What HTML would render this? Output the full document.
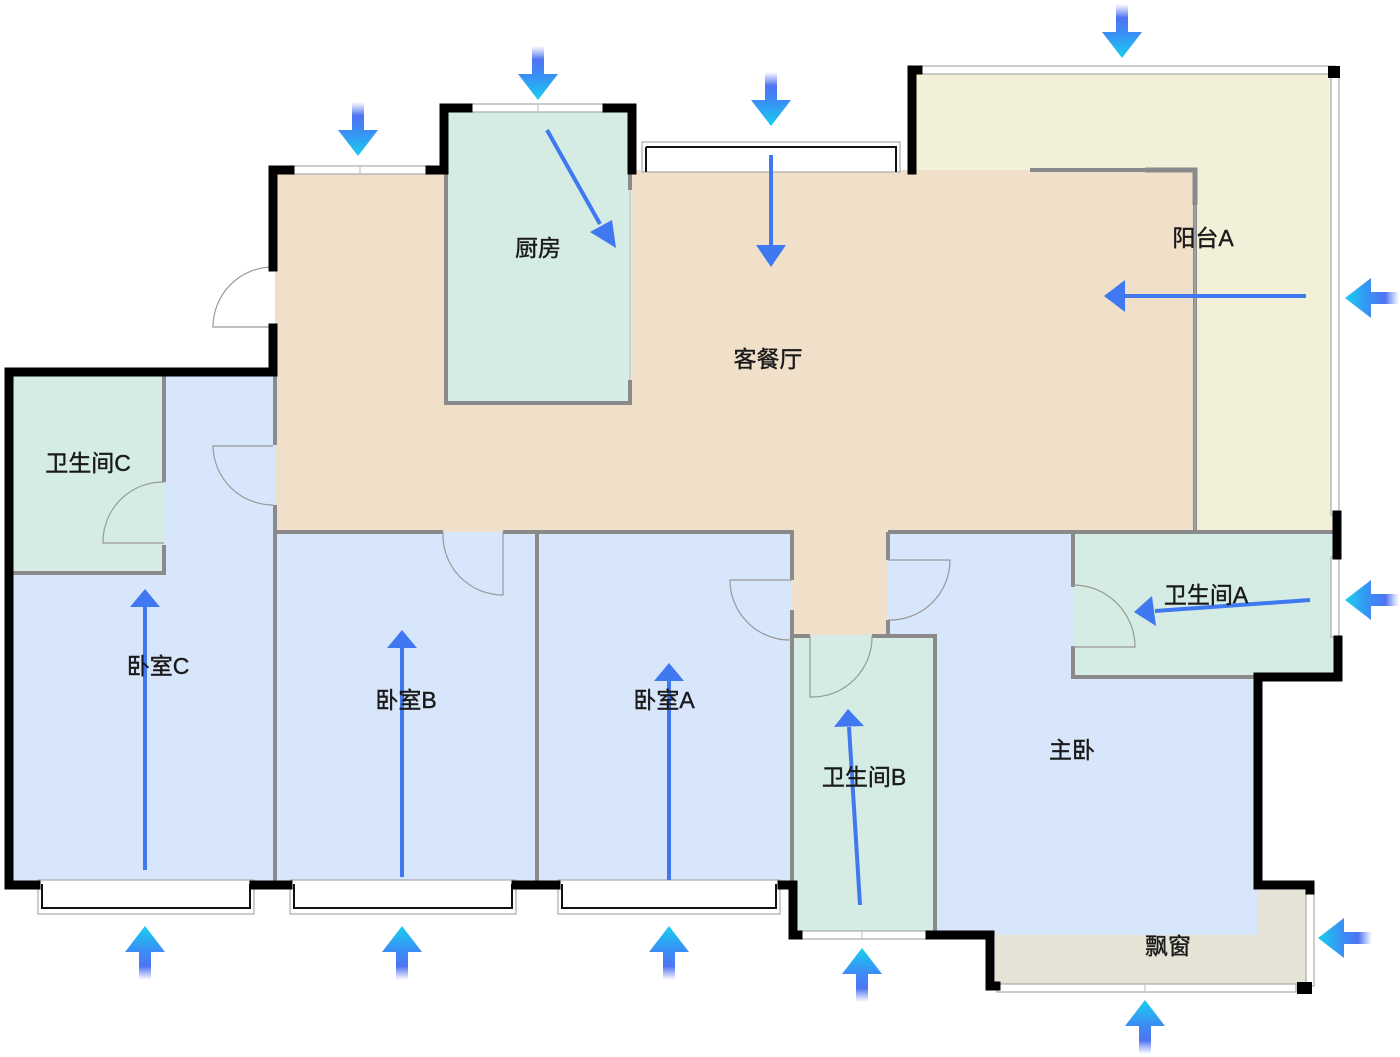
<!DOCTYPE html>
<html><head><meta charset="utf-8"><style>
html,body{margin:0;padding:0;background:#fff;width:1400px;height:1057px;overflow:hidden}
svg text{font-family:"Liberation Sans","Noto Sans CJK SC",sans-serif;font-size:23px;fill:#1a1a1a;text-anchor:middle;dominant-baseline:middle;stroke:#1a1a1a;stroke-width:0.4}
</style></head><body>
<svg width="1400" height="1057" viewBox="0 0 1400 1057" xmlns="http://www.w3.org/2000/svg">
<defs>
<linearGradient id="ga" gradientUnits="userSpaceOnUse" x1="0" y1="0" x2="0" y2="54">
<stop offset="0" stop-color="#18d0f0"/><stop offset="0.45" stop-color="#3a8ef4"/><stop offset="0.75" stop-color="#4f74f2"/><stop offset="1" stop-color="#5f7ff4" stop-opacity="0"/>
</linearGradient>
<g id="oa"><polygon points="0,0 20,26 6,26 6,54 -6,54 -6,26 -20,26" fill="url(#ga)"/></g>
</defs>

<rect x="912" y="70" width="423" height="462" fill="#f3f0da"/>
<rect x="275" y="170" width="920" height="362" fill="#f1e0c9"/>
<rect x="792" y="530" width="96" height="106" fill="#f1e0c9"/>
<rect x="444" y="108" width="188" height="296" fill="#d4ece4"/>
<rect x="10" y="372" width="265" height="513" fill="#d8e6fb"/>
<rect x="10" y="375" width="155" height="198" fill="#d4ece4"/>
<rect x="275" y="532" width="262" height="353" fill="#d8e6fb"/>
<rect x="537" y="532" width="255" height="353" fill="#d8e6fb"/>
<rect x="888" y="532" width="370" height="405" fill="#d8e6fb"/>
<rect x="792" y="635" width="143" height="300" fill="#d4ece4"/>
<rect x="1073" y="532" width="262" height="145" fill="#d4ece4"/>
<path d="M995,935 H1258 V890 H1308 V986 H995 Z" fill="#e4e3d6"/>

<g stroke="#8a8a8a" stroke-width="4" fill="none">
<path d="M446,172 V403 H630 V380"/>
<path d="M630,172 V190"/>
<path d="M1030,170 H1195 V530"/>
<path d="M1145,170 H1195 V205" stroke-width="5"/>
<path d="M275,372 V445 M275,505 V885"/>
<path d="M164,375 V482 M164,545 V573 H10"/>
<path d="M275,532 H443 M503,532 H792 V580"/>
<path d="M537,532 V885"/>
<path d="M792,610 V885"/>
<path d="M888,532 V560 M888,620 V635"/>
<path d="M792,636 H810 M872,636 H935 V935"/>
<path d="M888,532 H1335"/>
<path d="M1073,532 V587 M1073,646 V677 H1258"/>
</g>
<g stroke="#bbb" stroke-width="1" fill="none">
<path d="M1195,205 V530"/><path d="M630,190 V380"/>
</g>

<g stroke="#999" stroke-width="1.2" fill="none">
<path d="M273,267 A60,60 0 0 0 213,327 H273"/>
<path d="M273,446 H213 A60,60 0 0 0 273,505"/>
<path d="M164,482 A60,60 0 0 0 103,543 H164"/>
<path d="M443,532 A60,60 0 0 0 503,595 V532"/>
<path d="M792,580 H730 A60,60 0 0 0 792,640"/>
<path d="M888,560 H950 A60,60 0 0 1 888,620"/>
<path d="M810,636 V697 A60,60 0 0 0 872,636"/>
<path d="M1073,585 A62,62 0 0 1 1135,647 H1073"/>
</g>

<g fill="#fff" stroke="#aaa" stroke-width="1.2">
<rect x="290" y="166" width="140" height="8"/>
<rect x="470" y="104" width="135" height="8"/>
<rect x="918" y="66" width="417" height="8"/>
<rect x="1331" y="75" width="8" height="440"/>
<rect x="1331" y="557" width="8" height="80"/>
<rect x="1306" y="890" width="8" height="96"/>
<rect x="997" y="984" width="299" height="8"/>
<rect x="800" y="931" width="128" height="8"/>
<rect x="642" y="142" width="258" height="30"/>
<rect x="38" y="880" width="216" height="34"/>
<rect x="290" y="880" width="226" height="34"/>
<rect x="558" y="880" width="222" height="34"/>
</g>
<g stroke="#111" stroke-width="2" fill="none">
<path d="M646,147 H896 V172 M646,147 V172"/>
<path d="M42,884 V908 H250 V884"/>
<path d="M294,884 V908 H512 V884"/>
<path d="M562,884 V908 H776 V884"/>
</g>
<g stroke="#bbb" stroke-width="1"><path d="M360,166 V174 M538,104 V112 M862,931 V939 M1145,984 V992"/></g>

<g stroke="#000" stroke-width="9" fill="none" stroke-linecap="square">
<path d="M290,170 H273 V267"/>
<path d="M273,328 V372 H9 V885 H36"/>
<path d="M430,170 H444 V108 H468"/>
<path d="M607,108 H632 V170"/>
<path d="M912,170 V70 H918"/>
<path d="M254,885 H288"/>
<path d="M516,885 H556"/>
<path d="M782,885 H793 V935 H798"/>
<path d="M930,935 H990 V986 H996"/>
<path d="M1258,677 V885 H1310 V890"/>
<path d="M1258,677 H1338 V640"/>
<path d="M1337,515 V555"/>
</g>
<rect x="1328" y="66" width="12" height="12" fill="#000"/>
<rect x="1297" y="982" width="15" height="12" fill="#000"/>

<g stroke="#3f78f0" stroke-width="4" fill="#3f78f0">
<line x1="547" y1="130" x2="600" y2="224"/><polygon points="616,248 590,232 612,220" stroke="none"/>
<line x1="771" y1="155" x2="771" y2="245"/><polygon points="771,267 756,245 786,245" stroke="none"/>
<line x1="1306" y1="296" x2="1125" y2="296"/><polygon points="1104,296 1125,280 1125,312" stroke="none"/>
<line x1="1310" y1="600" x2="1155" y2="611"/><polygon points="1134,612 1152,596 1156,626" stroke="none"/>
<line x1="145" y1="870" x2="145" y2="605"/><polygon points="145,589 130,607 160,607" stroke="none"/>
<line x1="402" y1="877" x2="402" y2="647"/><polygon points="402,630 387,648 417,648" stroke="none"/>
<line x1="669" y1="880" x2="669" y2="680"/><polygon points="669,663 654,681 684,681" stroke="none"/>
<line x1="860" y1="905" x2="849" y2="727"/><polygon points="848,709 834,727 864,726" stroke="none"/>
</g>

<use href="#oa" transform="translate(358,156) rotate(180)"/>
<use href="#oa" transform="translate(538,100) rotate(180)"/>
<use href="#oa" transform="translate(771,126) rotate(180)"/>
<use href="#oa" transform="translate(1122,58) rotate(180)"/>
<use href="#oa" transform="translate(1345,298) rotate(-90)"/>
<use href="#oa" transform="translate(1345,600) rotate(-90)"/>
<use href="#oa" transform="translate(1318,938) rotate(-90)"/>
<use href="#oa" transform="translate(145,926)"/>
<use href="#oa" transform="translate(402,926)"/>
<use href="#oa" transform="translate(669,926)"/>
<use href="#oa" transform="translate(862,948)"/>
<use href="#oa" transform="translate(1145,1000)"/>

<text x="538" y="250">厨房</text>
<text x="768" y="361">客餐厅</text>
<text x="1203" y="240">阳台A</text>
<text x="88" y="465">卫生间C</text>
<text x="158" y="668">卧室C</text>
<text x="406" y="702">卧室B</text>
<text x="664" y="702">卧室A</text>
<text x="864" y="779">卫生间B</text>
<text x="1206" y="597">卫生间A</text>
<text x="1072" y="752">主卧</text>
<text x="1168" y="948">飘窗</text>
</svg>
</body></html>
